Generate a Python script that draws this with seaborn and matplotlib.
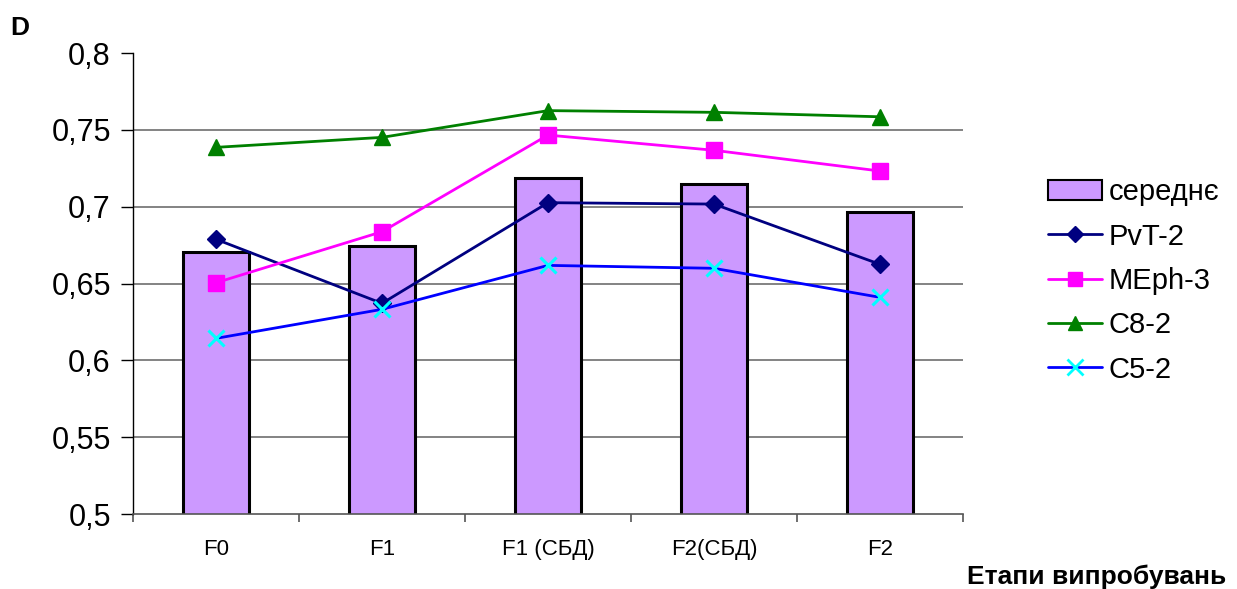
import numpy as np
import pandas as pd
import matplotlib
matplotlib.use('Agg')
from matplotlib import pyplot as plt
from matplotlib.lines import Line2D
from matplotlib.patches import Patch
import seaborn as sns

# етапи випробувань
stages = ['F0', 'F1', 'F1 (СБД)', 'F2(СБД)', 'F2']
# середнє (стовпчики)
mean_vals = [0.6705, 0.6744, 0.7187, 0.7148, 0.6965]
# окремі зразки
pvt2 = [0.6788, 0.6371, 0.7026, 0.7017, 0.6625]
meph3 = [0.6505, 0.6837, 0.7466, 0.7367, 0.7232]
c82 = [0.7386, 0.7451, 0.7625, 0.7614, 0.7585]
c52 = [0.6143, 0.6332, 0.6618, 0.6599, 0.6410]
yticks = [0.5, 0.55, 0.6, 0.65, 0.7, 0.75, 0.8]

sns.set_style('white')
plt.rcParams['font.family'] = ['Liberation Sans', 'DejaVu Sans']
plt.rcParams['text.color'] = 'black'
plt.rcParams['xtick.color'] = 'black'
plt.rcParams['ytick.color'] = 'black'

fig = plt.figure(figsize=(12.37, 5.89), dpi=100)
ax = fig.add_axes([0.1075, 0.1273, 0.671, 0.7827])

df = pd.DataFrame({'stage': stages, 'mean': mean_vals})
sns.barplot(data=df, x='stage', y='mean', color='#cc99ff', saturation=1,
            width=0.40, edgecolor='black', linewidth=2.2, ax=ax, zorder=2)

# лінії для зразків: (назва, значення, колір лінії, маркер, колір маркера, розмір)
series = [
    ('PvT-2', pvt2, '#000080', 'D', '#000080', 9),
    ('MEph-3', meph3, '#ff00ff', 's', '#ff00ff', 11),
    ('C8-2', c82, '#008000', '^', '#008000', 11),
    ('C5-2', c52, '#0000ff', 'x', '#00ffff', 12),
]
for name, vals, col, mk, mcol, ms in series:
    sns.pointplot(x=stages, y=vals, color=col, markers=mk, linestyles='-',
                  errorbar=None, ax=ax, linewidth=2, markersize=ms,
                  markeredgecolor=mcol, markerfacecolor=mcol,
                  markeredgewidth=2.2 if mk == 'x' else 1, zorder=3)

ax.set_ylim(0.5, 0.8)
ax.set_xlim(-0.5, len(stages) - 0.5)
ax.set_yticks(yticks)
ax.set_yticklabels([f'{v:g}'.replace('.', ',') for v in yticks], fontsize=22)
ax.set_xticks(range(len(stages)))
ax.set_xticklabels(stages, fontsize=16)
ax.tick_params(axis='x', which='major', bottom=True, length=0, pad=18)
ax.tick_params(axis='y', left=True, length=9, width=1, color='black',
               direction='out', pad=7)
# мітки між категоріями
ax.set_xticks(np.arange(-0.5, len(stages), 1), minor=True)
ax.tick_params(axis='x', which='minor', bottom=True, length=6, width=1.2,
               color='#555555', direction='out')
ax.set_xlabel('')
ax.set_ylabel('')

for y in yticks[1:-1]:
    ax.axhline(y, color='#6e6e6e', linewidth=1.2, zorder=1)

for s in ['top', 'right']:
    ax.spines[s].set_visible(False)
ax.spines['left'].set_color('black')
ax.spines['left'].set_linewidth(1)
ax.spines['bottom'].set_color('#555555')
ax.spines['bottom'].set_linewidth(1.2)

handles = [Patch(facecolor='#cc99ff', edgecolor='black', linewidth=1.5)]
for name, vals, col, mk, mcol, ms in series:
    handles.append(Line2D([0], [0], color=col, linewidth=2, marker=mk, markersize=ms - 1,
                          markerfacecolor=mcol, markeredgecolor=mcol,
                          markeredgewidth=2 if mk == 'x' else 1))
labels = ['середнє'] + [s[0] for s in series]
fig.legend(handles, labels, loc='upper left', bbox_to_anchor=(0.8375, 0.717),
           frameon=False, fontsize=21, handlelength=1.85, handleheight=0.7,
           handletextpad=0.25, labelspacing=0.56, borderaxespad=0)

fig.text(0.008, 0.953, 'D', fontsize=19, fontweight='bold', ha='left', va='center')
fig.text(0.991, 0.02, 'Етапи випробувань', fontsize=19, fontweight='bold',
         ha='right', va='center')

fig.savefig('out.png', dpi=100)
